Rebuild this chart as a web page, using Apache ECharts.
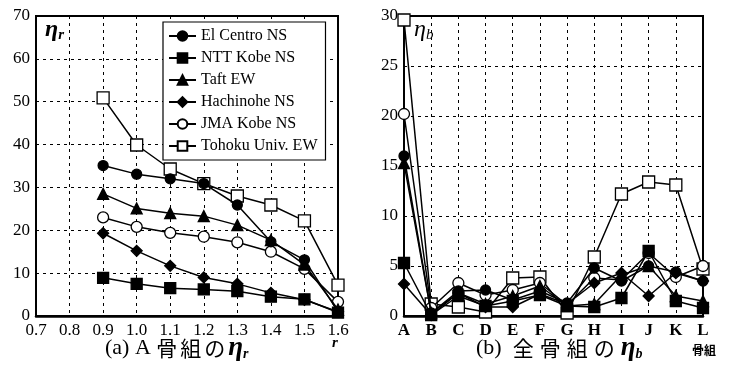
<!DOCTYPE html>
<html><head><meta charset="utf-8">
<script src="https://cdn.jsdelivr.net/npm/echarts@6/dist/echarts.min.js"></script>
<style>html,body{margin:0;padding:0;background:#fff}#c{width:736px;height:372px}</style>
</head><body><div id="c"></div>
<script>
// ---- data ----
const seriesNames = ['El Centro NS','NTT Kobe NS','Taft EW','Hachinohe NS','JMA Kobe NS','Tohoku Univ. EW'];
// (a) eta_r vs r
const rValues = [0.9,1.0,1.1,1.2,1.3,1.4,1.5,1.6];
const rTicks = [0.7,0.8,0.9,1.0,1.1,1.2,1.3,1.4,1.5,1.6];
const etaR_ElCentro = [35.1,33.1,32.0,30.9,25.9,17.3,13.1,1.0];
const etaR_NTTKobe  = [8.9,7.5,6.5,6.2,5.8,4.5,3.9,0.8];
const etaR_Taft     = [28.5,25.1,24.0,23.3,21.2,17.7,12.0,1.5];
const etaR_Hachinohe= [19.3,15.2,11.7,9.0,7.5,5.4,3.8,1.0];
const etaR_JMAKobe  = [23.0,20.8,19.4,18.5,17.2,15.0,11.0,3.3];
const etaR_Tohoku   = [50.9,39.9,34.3,30.9,28.0,25.9,22.2,7.2];
// (b) eta_b per frame
const frames = ['A','B','C','D','E','F','G','H','I','J','K','L'];
const etaB_ElCentro = [16.0,0.3,2.5,2.6,1.6,2.5,1.3,4.8,3.5,5.0,4.4,3.5];
const etaB_NTTKobe  = [5.3,0.1,2.0,1.0,1.5,2.1,1.0,0.9,1.8,6.5,1.5,0.8];
const etaB_Taft     = [15.3,0.3,2.3,1.2,2.0,3.0,1.0,1.2,4.1,5.0,2.0,1.5];
const etaB_Hachinohe= [3.2,0.1,2.3,0.9,0.9,2.2,1.2,3.3,4.3,2.0,4.3,3.5];
const etaB_JMAKobe  = [20.2,0.8,3.3,2.1,2.6,3.3,1.1,3.8,3.6,6.3,3.9,5.0];
const etaB_Tohoku   = [29.6,1.2,0.9,0.4,3.8,3.9,0.3,5.9,12.2,13.4,13.1,4.7];
const yTicksA = [0,10,20,30,40,50,60,70];
const yTicksB = [0,5,10,15,20,25,30];

const etaR = [etaR_ElCentro,etaR_NTTKobe,etaR_Taft,etaR_Hachinohe,etaR_JMAKobe,etaR_Tohoku];
const etaB = [etaB_ElCentro,etaB_NTTKobe,etaB_Taft,etaB_Hachinohe,etaB_JMAKobe,etaB_Tohoku];
const styles = [
  {symbol:'circle', size:10, fill:'#000'},
  {symbol:'rect', size:11, fill:'#000'},
  {symbol:'triangle', size:11, fill:'#000'},
  {symbol:'diamond', size:11, fill:'#000'},
  {symbol:'circle', size:11, fill:'#fff'},
  {symbol:'rect', size:12, fill:'#fff'}
];
const serif = '"Liberation Serif","Times New Roman",serif';
const cjk = '"Noto Sans CJK JP"';
const series = [];
seriesNames.forEach((n,i)=>{
  const st = styles[i];
  const common = {
    type:'line', name:n, symbol:st.symbol, symbolSize:st.size,
    lineStyle:{color:'#000', width:1.5},
    itemStyle:{color:st.fill, borderColor:'#000', borderWidth:1.3},
    z: 10 - i, animation:false
  };
  series.push(Object.assign({}, common, {xAxisIndex:0, yAxisIndex:0,
    data: rValues.map((r,k)=>[r, etaR[i][k]])}));
  series.push(Object.assign({}, common, {xAxisIndex:1, yAxisIndex:1,
    data: etaB[i]}));
});
const dashed = {show:true, lineStyle:{color:'#000', type:[3,4], width:1}};
function titleRich(pad){
  return {
    a:{fontFamily:serif, fontSize:22, fill:'#000'},
    j:{fontFamily:cjk, fontSize:21, fill:'#000', padding:[0,pad,0,0]},
    i:{fontFamily:serif, fontStyle:'italic', fontWeight:'bold', fontSize:27, fill:'#000'},
    s:{fontFamily:serif, fontStyle:'italic', fontWeight:'bold', fontSize:14, fill:'#000', padding:[12,0,0,0]}
  };
}
const chart = echarts.init(document.getElementById('c'), null, {renderer:'canvas'});
chart.setOption({
  backgroundColor:'#fff',
  animation:false,
  grid:[
    {left:36, top:16, width:302, height:300, show:true, borderColor:'#000', borderWidth:2, backgroundColor:'transparent'},
    {left:404, top:16, width:299, height:300, show:true, borderColor:'#000', borderWidth:2, backgroundColor:'transparent'}
  ],
  xAxis:[
    {type:'value', gridIndex:0, min:rTicks[0], max:rTicks[rTicks.length-1], interval:0.1,
     axisLine:{show:true, lineStyle:{color:'#000', width:2.5}}, axisTick:{show:false},
     axisLabel:{color:'#000', fontFamily:serif, fontSize:17, margin:6, formatter:v=>(+v).toFixed(1), showMinLabel:true, showMaxLabel:true},
     splitLine:dashed},
    {type:'category', gridIndex:1, data:frames, boundaryGap:false,
     axisLine:{show:true, lineStyle:{color:'#000', width:2.5}}, axisTick:{show:false},
     axisLabel:{color:'#000', fontFamily:serif, fontSize:17, fontWeight:'bold', margin:6, interval:0},
     splitLine:Object.assign({}, dashed, {interval:0})}
  ],
  yAxis:[
    {type:'value', gridIndex:0, min:yTicksA[0], max:yTicksA[yTicksA.length-1], interval:10,
     axisLine:{show:true, lineStyle:{color:'#000', width:2}}, axisTick:{show:false},
     axisLabel:{color:'#000', fontFamily:serif, fontSize:17, margin:6},
     splitLine:dashed},
    {type:'value', gridIndex:1, min:yTicksB[0], max:yTicksB[yTicksB.length-1], interval:5,
     axisLine:{show:true, lineStyle:{color:'#000', width:2}}, axisTick:{show:false},
     axisLabel:{color:'#000', fontFamily:serif, fontSize:17, margin:6},
     splitLine:dashed}
  ],
  legend:{
    data:seriesNames, orient:'vertical', left:163, top:22, itemGap:6,
    itemWidth:27, itemHeight:12, padding:[6,8,6,5],
    backgroundColor:'#fff', borderColor:'#000', borderWidth:1.2,
    textStyle:{color:'#000', fontFamily:serif, fontSize:16}
  },
  series:series,
  graphic:[
    {type:'text', left:45, top:18, z:20, style:{
      rich:{i:{fontFamily:serif, fontStyle:'italic', fontWeight:'bold', fontSize:24, fill:'#000'},
            s:{fontFamily:serif, fontStyle:'italic', fontWeight:'bold', fontSize:15, fill:'#000', padding:[10,0,0,0]}},
      text:'{i|η}{s|r}'}},
    {type:'text', left:414, top:18, z:20, style:{
      rich:{i:{fontFamily:serif, fontStyle:'italic', fontSize:24, fill:'#000'},
            s:{fontFamily:serif, fontStyle:'italic', fontSize:15, fill:'#000', padding:[10,0,0,0]}},
      text:'{i|η}{s|b}'}},
    {type:'text', left:332, top:336, z:20, style:{text:'r', font:'italic bold 15px '+serif, fill:'#000'}},
    {type:'text', left:692, top:344, z:20, style:{text:'骨組', font:'bold 12px '+cjk, fill:'#000'}},
    {type:'text', left:105, top:335, z:20, style:{rich:titleRich(3),
      text:'{a|(a) A }{j|骨}{j|組}{j|の}{i|η}{s|r}'}},
    {type:'text', left:476, top:335, z:20, style:{rich:titleRich(6),
      text:'{a|(b)  }{j|全}{j|骨}{j|組}{j|の}{i|η}{s|b}'}}
  ]
});
</script></body></html>
